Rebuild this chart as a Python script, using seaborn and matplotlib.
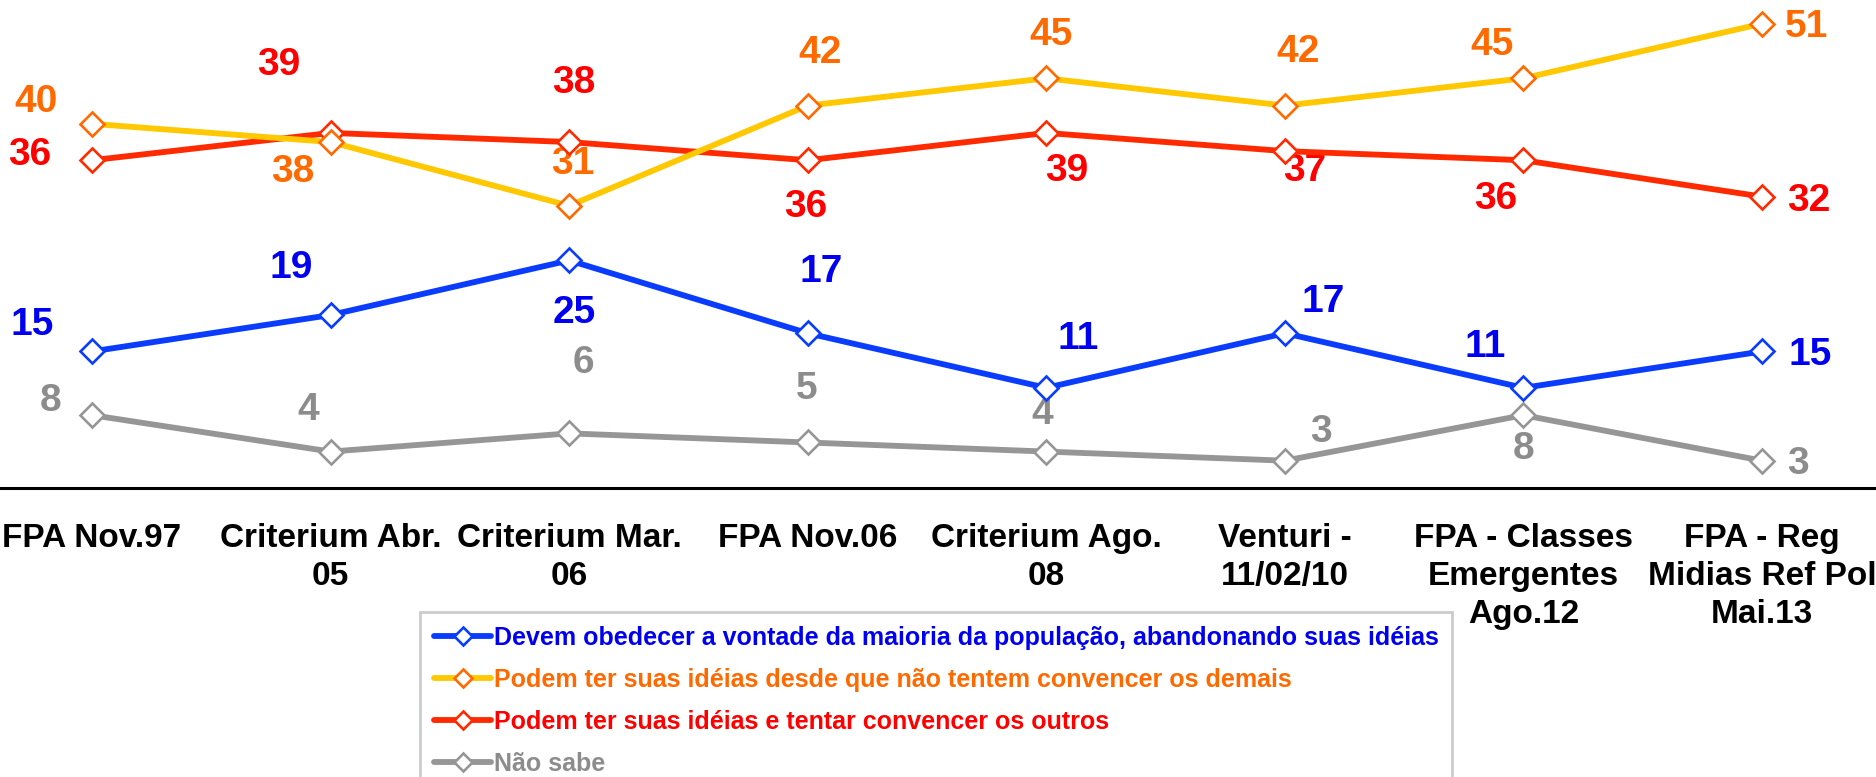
import matplotlib
matplotlib.use("Agg")
import matplotlib.pyplot as plt
import numpy as np
import pandas as pd
import seaborn as sns

# Dados do gráfico
categorias = ["FPA Nov.97", "Criterium Abr.\n05", "Criterium Mar.\n06", "FPA Nov.06",
              "Criterium Ago.\n08", "Venturi -\n11/02/10", "FPA - Classes\nEmergentes\nAgo.12",
              "FPA - Reg\nMidias Ref Pol\nMai.13"]
series = ["Devem obedecer a vontade da maioria da população, abandonando suas idéias",
          "Podem ter suas idéias desde que não tentem convencer os demais",
          "Podem ter suas idéias e tentar convencer os outros",
          "Não sabe"]
devem_obedecer = [15, 19, 25, 17, 11, 17, 11, 15]
desde_que_nao = [40, 38, 31, 42, 45, 42, 45, 51]
tentar_convencer = [36, 39, 38, 36, 39, 37, 36, 32]
nao_sabe = [8, 4, 6, 5, 4, 3, 8, 3]

# estilos
cor_linha = ["#0A3CFF", "#FFC800", "#FF2A00", "#969696"]
cor_marca = ["#0A3CFF", "#FF6A00", "#FF2A00", "#969696"]
cor_texto = ["#0000F0", "#FF6A00", "#FF0000", "#8C8C8C"]
# deslocamento dos rótulos (px da referência reduzida: dx, dy para baixo)
desloc = [
    [(-50, -22), (-33, -39), (4, 44), (11, -51), (27, -41), (32, -26), (-32, -34), (40, 3)],
    [(-47, -18), (-32, 25), (3, -35), (10, -44), (4, -36), (11, -45), (-26, -28), (37, 3)],
    [(-52, -4), (-43, -57), (4, -49), (-2, 39), (17, 32), (17, 17), (-23, 32), (39, 4)],
    [(-35, -12), (-19, -35), (12, -59), (-1, -45), (-3, -31), (30, -24), (0, 28), (30, 3)],
]
escala = 1876 / 1568

valores = [devem_obedecer, desde_que_nao, tentar_convencer, nao_sabe]
x = np.arange(len(categorias))
df = pd.concat([pd.DataFrame({"x": x, "valor": v, "serie": s}) for s, v in zip(series, valores)])

sns.set_style("white")
plt.rcParams['font.family'] = ['Liberation Sans', 'DejaVu Sans']
plt.rcParams['font.weight'] = 'bold'
plt.rcParams['text.color'] = 'black'
plt.rcParams['xtick.color'] = 'black'

fig = plt.figure(figsize=(18.76, 7.77), dpi=100)
ax = fig.add_axes([-27.3 / 1876, 289 / 777, 1908.6 / 1876, 488 / 777])

for i, s in enumerate(series):
    sub = df[df["serie"] == s]
    sns.lineplot(data=sub, x="x", y="valor", ax=ax, color=cor_linha[i], linewidth=4.2,
                 marker="D", markersize=12.5, markerfacecolor="white",
                 markeredgecolor=cor_marca[i], markeredgewidth=1.9,
                 label=s, zorder=3 + (3 - i))
    for j, v in enumerate(valores[i]):
        dx, dy = desloc[i][j]
        ax.annotate(str(v), (x[j], v), xytext=(dx * escala, -dy * escala),
                    textcoords="offset pixels", ha="center", va="center",
                    fontsize=28, fontweight="bold", color=cor_texto[i])

ax.set_xlim(-0.5, 7.5)
ax.set_ylim(0, 53.6)
ax.set_xlabel("")
ax.set_ylabel("")
ax.set_yticks([])
ax.set_xticks(np.arange(0.5, 7, 1))
ax.set_xticklabels([""] * 7)
ax.set_xticks(x, minor=True)
ax.set_xticklabels(categorias, minor=True, fontsize=24, fontweight="bold",
                   color="black", linespacing=1.3)
ax.tick_params(axis="x", which="major", length=9, width=1.5, direction="out", color="black")
ax.tick_params(axis="x", which="minor", length=0, pad=25)
for lado in ["top", "right", "left"]:
    ax.spines[lado].set_visible(False)
ax.spines["bottom"].set_linewidth(2.2)
ax.spines["bottom"].set_color("black")

leg = ax.legend(loc="upper left", bbox_to_anchor=(420 / 1876, 1 - 612 / 777),
                bbox_transform=fig.transFigure, fontsize=18, frameon=True,
                fancybox=False, handlelength=2.3, handletextpad=0.1,
                labelspacing=0.72, borderpad=0.55, borderaxespad=0)
leg.get_frame().set_edgecolor("#BFBFBF")
leg.get_frame().set_linewidth(2)
for t, c in zip(leg.get_texts(), cor_texto):
    t.set_color(c)
    t.set_fontweight("bold")
for h in leg.legend_handles:
    h.set_markersize(9)

fig.savefig("out.png", dpi=100)
